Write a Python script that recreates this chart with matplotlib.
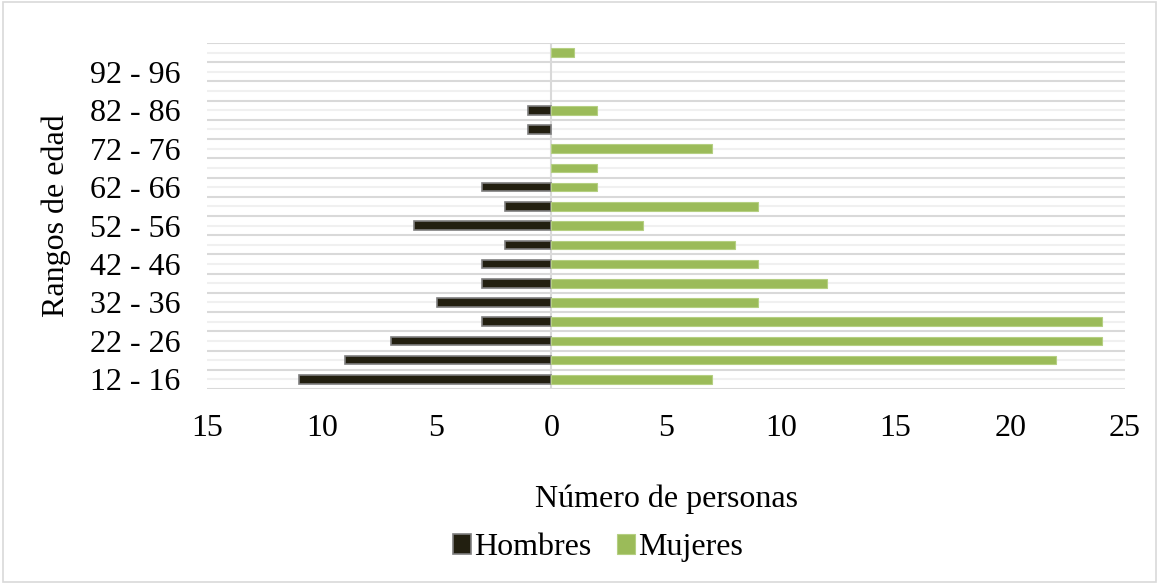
import matplotlib.pyplot as plt
import numpy as np
from matplotlib.patches import Rectangle

plt.rcParams['font.family'] = ['Liberation Serif', 'DejaVu Serif']

# age ranges, bottom to top (the top one has no visible label)
age_ranges = ["12 - 16", "17 - 21", "22 - 26", "27 - 31", "32 - 36", "37 - 41",
              "42 - 46", "47 - 51", "52 - 56", "57 - 61", "62 - 66", "67 - 71",
              "72 - 76", "77 - 81", "82 - 86", "87 - 91", "92 - 96", "97 - 101"]
hombres = [11, 9, 7, 3, 5, 3, 3, 2, 6, 2, 3, 0, 0, 1, 1, 0, 0, 0]
mujeres = [7, 22, 24, 24, 9, 12, 9, 8, 4, 9, 2, 2, 7, 0, 2, 0, 0, 1]
x_ticks = [-15, -10, -5, 0, 5, 10, 15, 20, 25]

FS = 23

fig = plt.figure(figsize=(11.59, 5.84), dpi=100)
ax = fig.add_axes([0.1786, 0.3339, 0.7921, 0.5925])

y = np.arange(len(age_ranges))
h = np.array(hombres)
m = np.array(mujeres)
# skip empty bars so they don't leave an edge stub on the zero line
ax.barh(y[h > 0], -h[h > 0], height=0.45, color="#221f10",
        edgecolor="#7f7f7f", linewidth=1.2, label="Hombres", zorder=3)
ax.barh(y[m > 0], m[m > 0], height=0.45, color="#9bbb59",
        edgecolor="#b5cf82", linewidth=0.8, label="Mujeres", zorder=3)

# gridlines: darker at category boundaries, lighter at centres
ax.hlines(np.arange(len(age_ranges) + 1) - 0.5, -15, 25, color="#d9d9d9", lw=1.5, zorder=1)
ax.hlines(y, -15, 25, color="#f0f0f0", lw=1.5, zorder=1)
ax.axvline(0, color="#d9d9d9", lw=1.5, zorder=2)

ax.set_xlim(-15, 25)
ax.set_ylim(-0.5, len(age_ranges) - 0.5)
ax.set_xticks(x_ticks)
ax.set_xticklabels([str(abs(v)) for v in x_ticks], fontsize=FS)
ax.set_yticks(y[::2])
ax.set_yticklabels(age_ranges[::2], fontsize=FS)
ax.tick_params(axis="x", length=0, pad=18)
ax.tick_params(axis="y", length=0, pad=19)
for s in ax.spines.values():
    s.set_visible(False)

ax.set_xlabel("Número de personas", fontsize=FS, labelpad=30)
ax.set_ylabel("Rangos de edad", fontsize=FS, labelpad=14)

fig.legend(loc="center", bbox_to_anchor=(0.516, 0.062), ncol=2, frameon=False,
           fontsize=FS, handlelength=0.55, handleheight=0.55, handletextpad=0.1,
           columnspacing=0.8)

fig.patches.append(Rectangle((0.003, 0.003), 0.994, 0.994, transform=fig.transFigure,
                             fill=False, edgecolor="#d9d9d9", lw=1.2))

fig.savefig("out.png", dpi=100)
